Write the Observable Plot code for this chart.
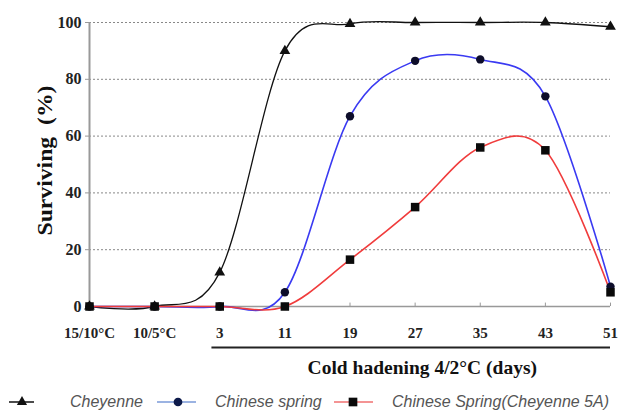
<!DOCTYPE html>
<html>
<head>
<meta charset="utf-8">
<script src="https://cdn.jsdelivr.net/npm/d3@7"></script>
<script src="https://cdn.jsdelivr.net/npm/@observablehq/plot@0.6"></script>
<style>
  html, body { margin: 0; padding: 0; background: #fff; }
  #chart { width: 618px; height: 414px; position: relative; overflow: hidden; }
  #legend { position: absolute; left: 0; top: 390px; width: 618px; height: 24px; }
</style>
</head>
<body>
<div id="chart"><div id="legend"></div></div>
<script>
const categories = ["15/10°C", "10/5°C", "3", "11", "19", "27", "35", "43", "51"];
const cheyenne = [0, 0, 12, 90, 99.5, 100, 100, 100, 98.5];
const chineseSpring = [0, 0, 0, 5, 67, 86.5, 87, 74, 7];
const chineseSpring5A = [0, 0, 0, 0, 16.5, 35, 56, 55, 5];
const yTicks = [0, 20, 40, 60, 80, 100];
const xTitle = "Cold hadening 4/2°C (days)";
const yTitle = "Surviving  (%)";
const seriesNames = ["Cheyenne", "Chinese spring", "Chinese Spring(Cheyenne 5A)"];

const toRows = (vals) => vals.map((v, i) => ({i, v}));
const rowsC = toRows(cheyenne);
const rowsS = toRows(chineseSpring);
const rowsA = toRows(chineseSpring5A);
const idx = categories.map((_, i) => i);

const blue = "#3a3af2";
const red = "#f03c3c";
const curve = {curve: "cardinal", tension: 0};

const plot = Plot.plot({
  width: 618,
  height: 390,
  marginLeft: 89,
  marginRight: 8,
  marginTop: 22,
  marginBottom: 84,
  style: {fontFamily: "'Liberation Serif', 'DejaVu Serif', serif", background: "#fff"},
  x: {domain: [0, 8]},
  y: {domain: [0, 100]},
  marks: [
    Plot.ruleY(yTicks.filter(d => d > 0), {stroke: "#888", strokeDasharray: "2,2", strokeWidth: 1}),
    Plot.ruleY([0], {stroke: "#999", strokeWidth: 1.5}),
    Plot.ruleX([0], {stroke: "#999", strokeWidth: 2}),
    Plot.ruleX(idx.slice(1), {y1: 0, y2: 1.2, stroke: "#999"}),
    Plot.axisY({ticks: yTicks, tickSize: 4, tickPadding: 4, fontSize: 16, fontWeight: "bold", label: null, stroke: "#999", fill: "#222"}),
    Plot.axisX({ticks: idx, tickFormat: i => categories[i], tickSize: 0, tickPadding: 21, fontSize: 15, fontWeight: "bold", label: null, fill: "#222"}),
    Plot.ruleY([0], {x1: 1.88, x2: 8, dy: 41, stroke: "#222", strokeWidth: 2.2}),
    Plot.text([xTitle], {frameAnchor: "bottom", x: 5.11, dy: 67, fontSize: 19.5, fontWeight: "bold", fill: "#111"}),
    Plot.text([yTitle], {frameAnchor: "left", textAnchor: "middle", rotate: -90, dx: -44, dy: -4, fontSize: 20, fontWeight: "bold", fill: "#111", className: "ylab"}),
    Plot.line(rowsC, {x: "i", y: "v", ...curve, stroke: "#111", strokeWidth: 1.3}),
    Plot.line(rowsS, {x: "i", y: "v", ...curve, stroke: blue, strokeWidth: 1.6}),
    Plot.line(rowsA, {x: "i", y: "v", ...curve, stroke: red, strokeWidth: 1.6}),
    Plot.dot(rowsC, {x: "i", y: "v", symbol: "triangle", r: 4, fill: "#111"}),
    Plot.dot(rowsS, {x: "i", y: "v", symbol: "circle", r: 4.2, fill: "#0d0d2a"}),
    Plot.dot(rowsA, {x: "i", y: "v", symbol: "square", r: 4.8, fill: "#0a0a0a"})
  ]
});
document.getElementById("chart").insertBefore(plot, document.getElementById("legend"));
// stretch the y label along its length like the reference
d3.select(plot).selectAll("text").filter(function() { return this.textContent === yTitle; })
  .attr("textLength", 150).attr("lengthAdjust", "spacingAndGlyphs");

// Legend
const lg = d3.select("#legend").append("svg").attr("width", 618).attr("height", 24);
const items = [
  {name: seriesNames[0], lineColor: "#111", x1: 9, x2: 34, mx: 22, sym: d3.symbolTriangle, fill: "#111", size: 45, tx: 70},
  {name: seriesNames[1], lineColor: "#7a9ad8", x1: 157, x2: 196, mx: 178, sym: d3.symbolCircle, fill: "#0d1a4a", size: 60, tx: 215},
  {name: seriesNames[2], lineColor: "#f07070", x1: 334, x2: 373, mx: 353, sym: d3.symbolSquare, fill: "#0a0a0a", size: 75, tx: 392}
];
const cy = 12;
items.forEach(it => {
  lg.append("line").attr("x1", it.x1).attr("x2", it.x2).attr("y1", cy).attr("y2", cy)
    .attr("stroke", it.lineColor).attr("stroke-width", 1.5);
  lg.append("path").attr("d", d3.symbol(it.sym, it.size)()).attr("transform", `translate(${it.mx},${cy})`)
    .attr("fill", it.fill);
  lg.append("text").attr("x", it.tx).attr("y", cy + 5).text(it.name)
    .attr("font-family", "'Liberation Sans', Arial, sans-serif").attr("font-style", "italic")
    .attr("font-size", 16).attr("fill", "#555");
});
</script>
</body>
</html>
